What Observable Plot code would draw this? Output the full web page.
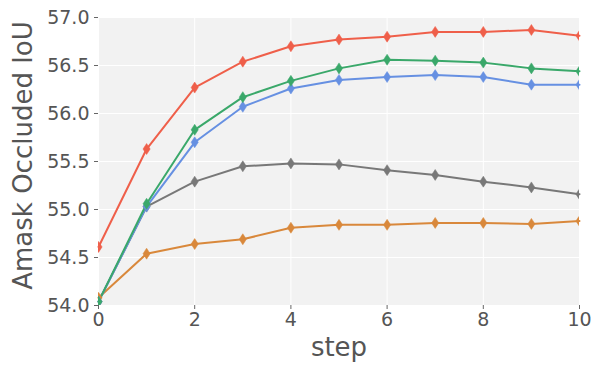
<!DOCTYPE html>
<html>
<head>
<meta charset="utf-8">
<script src="https://cdn.jsdelivr.net/npm/d3@7"></script>
<script src="https://cdn.jsdelivr.net/npm/@observablehq/plot@0.6"></script>
<style>
  html, body { margin: 0; padding: 0; background: #fff; }
  svg { font-family: "DejaVu Sans", sans-serif; }
</style>
</head>
<body>
<div id="chart"></div>
<script>
const steps = [0, 1, 2, 3, 4, 5, 6, 7, 8, 9, 10];
const redValues    = [54.61, 55.63, 56.27, 56.54, 56.70, 56.77, 56.80, 56.85, 56.85, 56.87, 56.81];
const greenValues  = [54.04, 55.06, 55.83, 56.17, 56.34, 56.47, 56.56, 56.55, 56.53, 56.47, 56.44];
const blueValues   = [54.04, 55.03, 55.70, 56.07, 56.26, 56.35, 56.38, 56.40, 56.38, 56.30, 56.30];
const grayValues   = [54.04, 55.03, 55.29, 55.45, 55.48, 55.47, 55.41, 55.36, 55.29, 55.23, 55.16];
const orangeValues = [54.08, 54.54, 54.64, 54.69, 54.81, 54.84, 54.84, 54.86, 54.86, 54.85, 54.88];
const xTicks = [0, 2, 4, 6, 8, 10];
const yTicks = [54.0, 54.5, 55.0, 55.5, 56.0, 56.5, 57.0];

const series = [
  {name: "orange", color: "#d9883b", values: orangeValues},
  {name: "gray", color: "#787878", values: grayValues},
  {name: "blue", color: "#6690e2", values: blueValues},
  {name: "green", color: "#3aa86a", values: greenValues},
  {name: "red", color: "#ef5f4a", values: redValues}
];
const data = series.flatMap(s => s.values.map((v, i) => ({step: steps[i], value: v, series: s.name, color: s.color})));

const thinDiamond = {
  draw(ctx) {
    ctx.moveTo(0, -5.5);
    ctx.lineTo(3.6, 0);
    ctx.lineTo(0, 5.5);
    ctx.lineTo(-3.6, 0);
    ctx.closePath();
  }
};

const chart = Plot.plot({
  width: 596,
  height: 367,
  marginLeft: 98,
  marginRight: 17,
  marginTop: 17,
  marginBottom: 62,
  style: {fontFamily: "DejaVu Sans, sans-serif", fontSize: "19px", color: "#555"},
  x: {domain: [0, 10], ticks: xTicks, tickFormat: d => d, label: null, tickSize: 4, tickPadding: 4},
  y: {domain: [54, 57], ticks: yTicks, tickFormat: d3.format(".1f"), label: null, tickSize: 4, tickPadding: 5},
  marks: [
    Plot.frame({fill: "#f2f2f2", stroke: null}),
    Plot.gridX(xTicks, {stroke: "#ffffff", strokeOpacity: 1, strokeWidth: 1}),
    Plot.gridY(yTicks, {stroke: "#ffffff", strokeOpacity: 1, strokeWidth: 1.2}),
    Plot.axisX({ticks: xTicks, tickFormat: d => d, tickSize: 4, tickPadding: 3, stroke: "#666", fill: "#555", fontSize: 19}),
    Plot.axisY({ticks: yTicks, tickFormat: d3.format(".1f"), tickSize: 4, tickPadding: 5, stroke: "#666", fill: "#555", fontSize: 19}),
    Plot.line(data, {x: "step", y: "value", z: "series", stroke: "color", strokeWidth: 2}),
    Plot.dot(data, {x: "step", y: "value", symbol: thinDiamond, fill: "color", stroke: "color", strokeWidth: 0.5, clip: true}),
    Plot.text(["Amask Occluded IoU"], {frameAnchor: "left", dx: -75, dy: -6, rotate: -90, fontSize: 26, fill: "#555", textAnchor: "middle"}),
    Plot.text(["step"], {frameAnchor: "bottom", dy: 50, fontSize: 26, fill: "#555", textAnchor: "middle"})
  ]
});
document.getElementById("chart").appendChild(chart);
</script>
</body>
</html>
